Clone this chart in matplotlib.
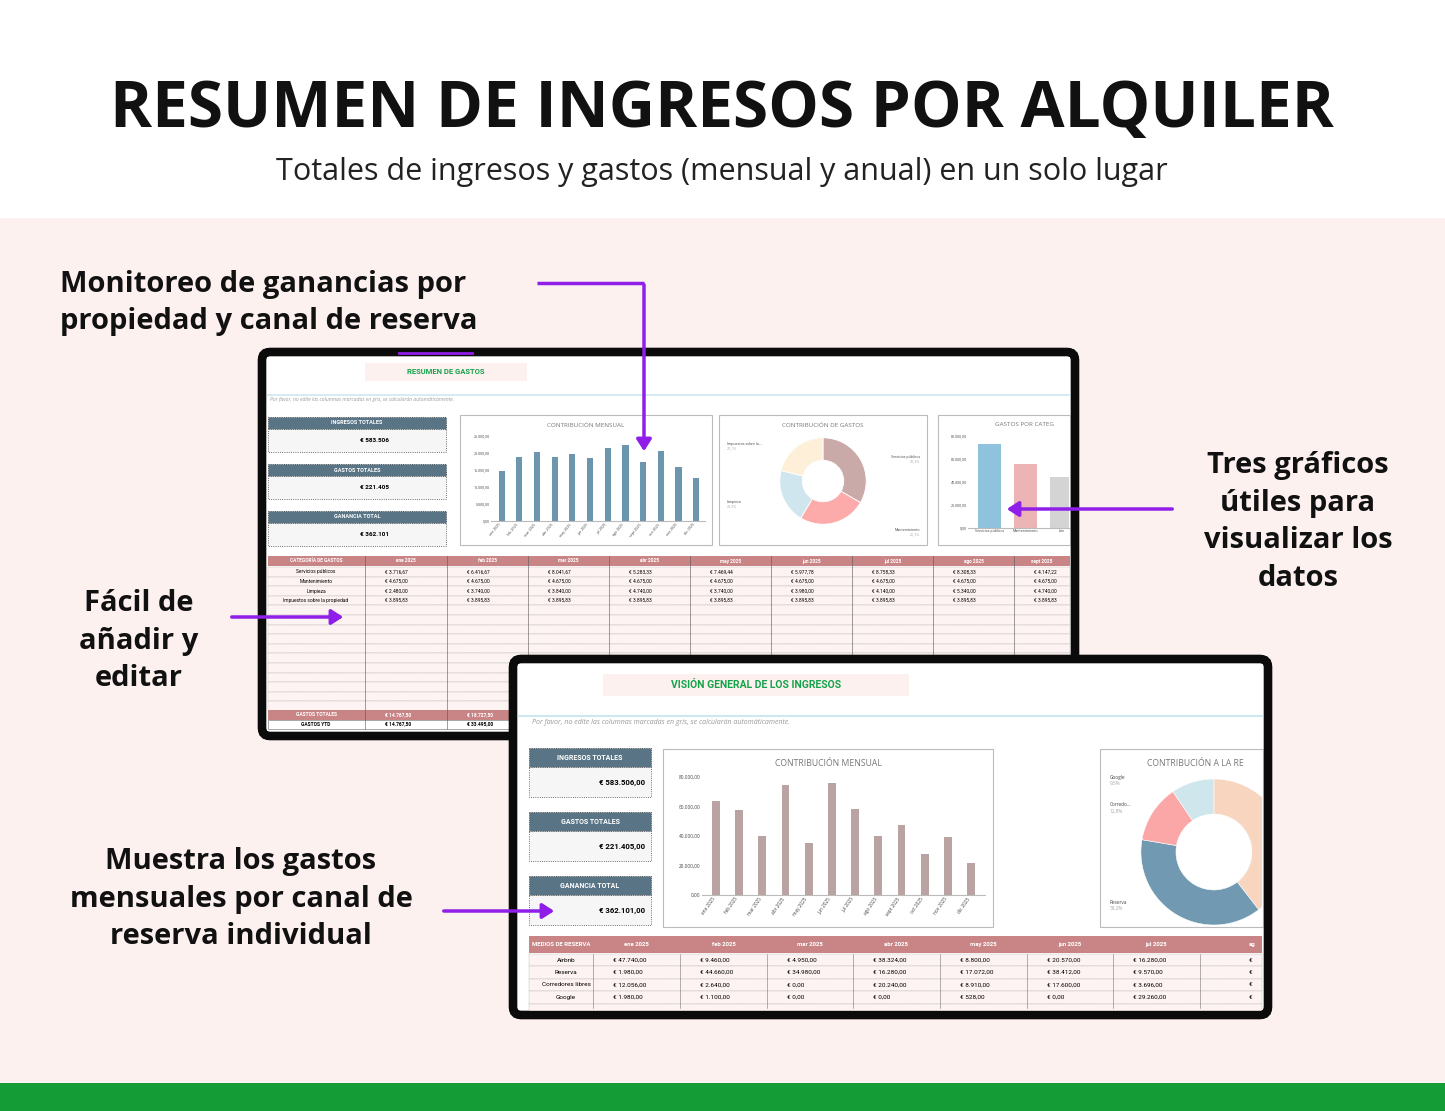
import matplotlib
matplotlib.use("Agg")
import matplotlib.pyplot as plt
from matplotlib.patches import Rectangle, FancyBboxPatch

W, H = 1445, 1111
plt.rcParams['font.family'] = ['Open Sans', 'DejaVu Sans']

# ---- datos ----
meses = ["ene 2025", "feb 2025", "mar 2025", "abr 2025", "may 2025", "jun 2025",
         "jul 2025", "ago 2025", "sept 2025", "oct 2025", "nov 2025", "dic 2025"]
gastos_mensuales = [14800, 18700, 20400, 18700, 19800, 18500, 21500, 22300, 17400, 20700, 16000, 12700]
ingresos_mensuales = [63500, 57500, 40000, 74500, 35500, 76000, 58500, 40000, 47500, 27500, 39500, 21500]

cat_gastos = ["Servicios públicos", "Mantenimiento", "Limpieza", "Impuestos sobre la propiedad"]
pct_gastos = [33.3, 25.3, 20.3, 21.1]
col_gastos = ["#c9aaa9", "#fcabaa", "#cfe6ee", "#fdefd8"]
total_cat = [73000, 56000, 44000]
col_cat = ["#8ec2dd", "#ecb4b5", "#d4d4d4"]

canales = ["Airbnb", "Reserva", "Corredores libres", "Google"]
pct_canales = [39.5, 38.2, 12.8, 9.5]
col_canales = ["#f7d5bf", "#7199b1", "#fca7a7", "#cee6ec"]

tabla_gastos = [
    ["3.716,67", "6.416,67", "8.041,67", "5.283,33", "7.469,44", "5.977,78", "8.758,33", "8.308,33", "4.147,22"],
    ["4.675,00"] * 9,
    ["2.480,00", "3.740,00", "3.840,00", "4.740,00", "3.740,00", "3.980,00", "4.140,00", "5.340,00", "4.740,00"],
    ["3.895,83"] * 9,
]
totales_gastos = ["14.767,50", "18.727,50"]
ytd_gastos = ["14.767,50", "33.495,00"]

tabla_ingresos = [
    ["47.740,00", "9.460,00", "4.950,00", "38.324,00", "8.800,00", "20.570,00", "16.280,00"],
    ["1.980,00", "44.660,00", "34.980,00", "16.280,00", "17.072,00", "38.412,00", "9.570,00"],
    ["12.056,00", "2.640,00", "0,00", "20.240,00", "8.910,00", "17.600,00", "3.696,00"],
    ["1.980,00", "1.100,00", "0,00", "0,00", "528,00", "0,00", "29.260,00"],
]

fig = plt.figure(figsize=(W / 100, H / 100), dpi=100)


def px_ax(x0, y0, x1, y1, z=1):
    return fig.add_axes([x0 / W, 1 - y1 / H, (x1 - x0) / W, (y1 - y0) / H], zorder=z)


bg = px_ax(0, 0, W, H, 0)
bg.set_xlim(0, W)
bg.set_ylim(H, 0)
bg.axis("off")


def rect(x0, y0, x1, y1, fc, ec="none", lw=0, z=1, **kw):
    bg.add_patch(Rectangle((x0, y0), x1 - x0, y1 - y0, fc=fc, ec=ec, lw=lw, zorder=z, **kw))


rect(0, 0, W, 218, "white", z=0)
rect(0, 218, W, 1083, "#fdf1f0", z=0)
rect(0, 1083, W, H, "#149c37", z=0)

bg.text(722, 110, "RESUMEN DE INGRESOS POR ALQUILER", ha="center", va="center",
        fontsize=46, fontweight="bold", color="#111111")
bg.text(722, 172, "Totales de ingresos y gastos (mensual y anual) en un solo lugar",
        ha="center", va="center", fontsize=22, color="#222222")

ann = dict(fontsize=21, fontweight="bold", color="#111111", linespacing=1.4)
bg.text(60, 303, "Monitoreo de ganancias por\npropiedad y canal de reserva", ha="left", va="center", **ann)
bg.text(1298, 522, "Tres gráficos\nútiles para\nvisualizar los\ndatos", ha="center", va="center", **ann)
bg.text(139, 641, "Fácil de\nañadir y\neditar", ha="center", va="center", **ann)
bg.text(241, 899, "Muestra los gastos\nmensuales por canal de\nreserva individual", ha="center", va="center", **ann)


def marco(x0, y0, x1, y1, z):
    bg.add_patch(FancyBboxPatch((x0, y0), x1 - x0, y1 - y0, boxstyle="round,pad=0,rounding_size=8",
                                fc="white", ec="#0b0b0b", lw=6, zorder=z))


def kpi(x0, x1, y0, yh, y1, titulo, fs_t, z):
    rect(x0, y0, x1, yh, "#587485", ec="#333333", lw=0.6, z=z, ls=":")
    rect(x0, yh, x1, y1, "#f6f6f6", ec="#444444", lw=0.6, z=z, ls=":")
    bg.text((x0 + x1) / 2, (y0 + yh) / 2, titulo, ha="center", va="center", fontsize=fs_t,
            color="white", fontweight="bold", zorder=z + 1, family="Roboto")
    return (yh + y1) / 2


# ---------------- captura 1: resumen de gastos ----------------
Z1 = 2
marco(262, 352, 1075, 736, Z1)
rect(365, 363, 527, 381, "#fdf1ef", z=Z1 + 1)
bg.text(446, 372, "RESUMEN DE GASTOS", ha="center", va="center", fontsize=5.5, color="#14a34a",
        fontweight="bold", zorder=Z1 + 2, family="Roboto")
bg.plot([268, 1070], [395, 395], color="#cfe8f0", lw=1.2, zorder=Z1 + 1)
bg.plot([399, 472], [353, 353], color="#8e1ee8", lw=2, zorder=Z1 + 5)
bg.text(270, 400, "Por favor, no edite las columnas marcadas en gris, se calcularán automáticamente.",
        fontsize=3.6, color="#999999", style="italic", va="center", zorder=Z1 + 1)
for (y0, t, v) in [(417, "INGRESOS TOTALES", "€ 583.506"), (464, "GASTOS TOTALES", "€ 221.405"),
                   (511, "GANANCIA TOTAL", "€ 362.101")]:
    yv = kpi(268, 446, y0, y0 + 12, y0 + 35, t, 4, Z1 + 1)
    bg.text(389, yv, v, ha="right", va="center", fontsize=4.6, fontweight="bold", zorder=Z1 + 2,
            family="Roboto")
for (a, b) in [(460, 712), (719, 927), (938, 1070)]:
    rect(a, 415, b, 545, "white", ec="#bbbbbb", lw=0.8, z=Z1 + 1)

# tabla de gastos
xc1 = [268, 365, 447, 528, 609, 690, 771, 852, 933, 1014, 1095]
rect(268, 556, 1070, 566, "#c98585", z=Z1 + 1)
hdr1 = ["CATEGORÍA DE GASTOS"] + meses[:9]
for i, h in enumerate(hdr1):
    bg.text((xc1[i] + xc1[i + 1]) / 2 if i < 9 else 1042, 561, h, ha="center", va="center",
            fontsize=3.4, color="white", fontweight="bold", zorder=Z1 + 2, family="Roboto")
row_h = 9.6
for r in range(15):
    y0 = 567 + r * row_h
    rect(268, y0, 1070, y0 + row_h, "#fdf3f2", ec="#9a9a9a", lw=0.35, z=Z1 + 1, ls=(0, (1, 1)))
for r, nombre in enumerate(cat_gastos):
    y = 567 + r * row_h + row_h / 2
    bg.text(316, y, nombre, ha="center", va="center", fontsize=3.5, zorder=Z1 + 2, family="Roboto")
    for c, v in enumerate(tabla_gastos[r]):
        bg.text(xc1[c + 1] + 20, y, "€ " + v, ha="left", va="center", fontsize=3.5, zorder=Z1 + 2,
                family="Roboto")
for x in xc1[1:10]:
    bg.plot([x, x], [556, 729], color="#555555", lw=0.4, zorder=Z1 + 2)
rect(268, 710, 1070, 719.5, "#c98585", z=Z1 + 1)
rect(268, 719.5, 1070, 729, "white", ec="#666666", lw=0.4, z=Z1 + 1)
bg.text(316, 715, "GASTOS TOTALES", ha="center", va="center", fontsize=3.5, color="white",
        fontweight="bold", zorder=Z1 + 2, family="Roboto")
bg.text(316, 724, "GASTOS YTD", ha="center", va="center", fontsize=3.5, fontweight="bold",
        zorder=Z1 + 2, family="Roboto")
for c in range(2):
    bg.text(xc1[c + 1] + 20, 715, "€ " + totales_gastos[c], ha="left", va="center", fontsize=3.5,
            color="white", fontweight="bold", zorder=Z1 + 2, family="Roboto")
    bg.text(xc1[c + 1] + 20, 724, "€ " + ytd_gastos[c], ha="left", va="center", fontsize=3.5,
            fontweight="bold", zorder=Z1 + 2, family="Roboto")
bg.add_patch(FancyBboxPatch((262, 352), 813, 384, boxstyle="round,pad=0,rounding_size=8",
                            fc="none", ec="#0b0b0b", lw=6, zorder=Z1 + 4))

# ---------------- captura 2: visión general de ingresos ----------------
Z2 = 10
marco(513, 659, 1268, 1015, Z2)
rect(603, 674, 909, 696, "#fdf1ef", z=Z2 + 1)
bg.text(756, 685, "VISIÓN GENERAL DE LOS INGRESOS", ha="center", va="center", fontsize=7.5,
        color="#14a34a", fontweight="bold", zorder=Z2 + 2, family="Roboto")
bg.plot([518, 1263], [716, 716], color="#cfe8f0", lw=1.5, zorder=Z2 + 1)
bg.text(532, 723, "Por favor, no edite las columnas marcadas en gris, se calcularán automáticamente.",
        fontsize=5, color="#999999", style="italic", va="center", zorder=Z2 + 1)
for (y0, t, v) in [(748, "INGRESOS TOTALES", "€ 583.506,00"), (812, "GASTOS TOTALES", "€ 221.405,00"),
                   (876, "GANANCIA TOTAL", "€ 362.101,00")]:
    yv = kpi(529, 651, y0, y0 + 19, y0 + 49, t, 5, Z2 + 1)
    bg.text(645, yv, v, ha="right", va="center", fontsize=5.6, fontweight="bold", zorder=Z2 + 2,
            family="Roboto")
rect(663, 749, 993, 927, "white", ec="#bbbbbb", lw=0.8, z=Z2 + 1)
rect(1100, 749, 1263, 927, "white", ec="#bbbbbb", lw=0.8, z=Z2 + 1)

xc2 = [529, 593, 680, 767, 853, 940, 1027, 1113, 1200, 1287]
rect(529, 936, 1262, 953, "#c98585", z=Z2 + 1)
hdr2 = ["MEDIOS DE RESERVA"] + meses[:7] + ["ag"]
for i, h in enumerate(hdr2):
    xx = (xc2[i] + xc2[i + 1]) / 2 if i < 8 else 1252
    bg.text(xx, 944.5, h, ha="center", va="center", fontsize=4.3, color="white", fontweight="bold",
            zorder=Z2 + 2, family="Roboto")
row_h2 = 12.4
for r in range(5):
    y0 = 954 + r * row_h2
    rect(529, y0, 1262, y0 + row_h2, "#fdf3f2", ec="#9a9a9a", lw=0.35, z=Z2 + 1, ls=(0, (1, 1)))
for r, nombre in enumerate(canales):
    y = 954 + r * row_h2 + row_h2 / 2
    bg.text(566, y, nombre, ha="center", va="center", fontsize=4.6, zorder=Z2 + 2, family="Roboto")
    for c, v in enumerate(tabla_ingresos[r]):
        bg.text(xc2[c + 1] + 20, y, "€ " + v, ha="left", va="center", fontsize=4.6, zorder=Z2 + 2,
                family="Roboto")
    bg.text(1249, y, "€", ha="left", va="center", fontsize=4.6, zorder=Z2 + 2, family="Roboto")
for x in xc2[1:9]:
    bg.plot([x, x], [954, 1008], color="#777777", lw=0.4, zorder=Z2 + 2)


def estilo_barras(ax, fs):
    ax.set_facecolor("white")
    for s in ["top", "right", "left"]:
        ax.spines[s].set_visible(False)
    ax.spines["bottom"].set_color("#bbbbbb")
    ax.tick_params(length=0, labelsize=fs, colors="#444444", pad=1)


def euro(v):
    return f"{v:,.2f}".replace(",", "X").replace(".", ",").replace("X", ".")


# gráfico 1: contribución mensual de gastos
bg.text(586, 425, "CONTRIBUCIÓN MENSUAL", ha="center", va="center", fontsize=4.5, color="#777777",
        zorder=Z1 + 2)
a1 = px_ax(491, 436, 705, 521, 5)
a1.bar(range(12), gastos_mensuales, width=0.35, color="#6b96ae")
a1.set_ylim(0, 25000)
a1.set_yticks(range(0, 25001, 5000))
a1.set_yticklabels([euro(v) for v in range(0, 25001, 5000)])
a1.set_xticks(range(12))
a1.set_xticklabels(meses, rotation=50, ha="right")
a1.set_xlim(-0.6, 11.5)
estilo_barras(a1, 2.6)

# gráfico 2: contribución de gastos
bg.text(823, 425, "CONTRIBUCIÓN DE GASTOS", ha="center", va="center", fontsize=4.5, color="#777777",
        zorder=Z1 + 2)
a2 = px_ax(769, 427, 877, 535, 5)
a2.pie(pct_gastos, colors=col_gastos, startangle=90, counterclock=False,
       wedgeprops=dict(width=0.52, edgecolor="white", linewidth=0.6))
a2.set_aspect("equal")
for (txt, p, x, y, ha) in [("Impuestos sobre la...", 21.1, 727, 444, "left"),
                           ("Servicios públicos", 33.3, 920, 457, "right"),
                           ("Limpieza", 20.3, 727, 502, "left"),
                           ("Mantenimiento", 25.3, 920, 530, "right")]:
    bg.text(x, y, txt, fontsize=2.6, ha=ha, va="center", color="#444444", zorder=Z1 + 2)
    bg.text(x, y + 4, f"{p:.1f}%".replace(".", ","), fontsize=2.6, ha=ha, va="center",
            color="#aaaaaa", zorder=Z1 + 2)

# gráfico 3: gastos por categoría (recortado)
bg.text(995, 425, "GASTOS POR CATEG", ha="left", va="center", fontsize=4.5, color="#777777",
        zorder=Z1 + 2)
a3 = px_ax(968, 436, 1069, 528, 5)
a3.bar(range(3), total_cat, width=0.65, color=col_cat)
a3.set_ylim(0, 80000)
a3.set_xlim(-0.6, 2.2)
a3.set_yticks(range(0, 80001, 20000))
a3.set_yticklabels([euro(v) for v in range(0, 80001, 20000)])
a3.set_xticks(range(3))
a3.set_xticklabels(["Servicios públicos", "Mantenimiento", "Lim"])
estilo_barras(a3, 2.6)

# gráfico 4: contribución mensual de ingresos
bg.text(828, 763, "CONTRIBUCIÓN MENSUAL", ha="center", va="center", fontsize=6.2, color="#777777",
        zorder=Z2 + 2)
a4 = px_ax(702, 777, 985, 895, 15)
a4.bar(range(12), ingresos_mensuales, width=0.33, color="#b9a3a3")
a4.set_ylim(0, 80000)
a4.set_yticks(range(0, 80001, 20000))
a4.set_yticklabels([euro(v) for v in range(0, 80001, 20000)])
a4.set_xticks(range(12))
a4.set_xticklabels(meses, rotation=55, ha="right")
a4.set_xlim(-0.6, 11.6)
estilo_barras(a4, 3.4)

# gráfico 5: contribución a la reserva (recortado en el borde derecho)
bg.text(1147, 763, "CONTRIBUCIÓN A LA RE", ha="left", va="center", fontsize=6.2, color="#777777",
        zorder=Z2 + 2)
a5 = px_ax(1138, 779, 1262, 925, 15)
cunas, _ = a5.pie(pct_canales, colors=col_canales, startangle=90, counterclock=False,
                  wedgeprops=dict(width=0.48, edgecolor="white", linewidth=0.4))
for w in cunas:
    w.set_clip_on(True)
a5.set_aspect("auto")
a5.set_ylim(-1.0, 1.0)
a5.set_xlim(-1.04, -1.04 + 2.0 * 124 / 146)
a5.axis("off")
for (txt, p, y) in [("Google", 9.5, 777), ("Corredo...", 12.8, 805), ("Reserva", 38.2, 902)]:
    bg.text(1110, y, txt, fontsize=3.4, ha="left", va="center", color="#444444", zorder=Z2 + 2)
    bg.text(1110, y + 6, f"{p:.1f}%".replace(".", ","), fontsize=3.4, ha="left", va="center",
            color="#aaaaaa", zorder=Z2 + 2)

# flechas moradas y borde de la captura 2
ov = px_ax(0, 0, W, H, 30)
ov.set_xlim(0, W)
ov.set_ylim(H, 0)
ov.axis("off")
ov.patch.set_alpha(0)
ov.add_patch(FancyBboxPatch((513, 659), 755, 356, boxstyle="round,pad=0,rounding_size=8",
                            fc="none", ec="#0b0b0b", lw=6))
pur = "#8e1ee8"
ov.plot([537, 644], [283, 283], color=pur, lw=2.5, solid_capstyle="butt")
arr = dict(arrowstyle="-|>,head_width=0.45,head_length=0.7", color=pur, lw=2.5)
ov.annotate("", xy=(644, 454), xytext=(644, 282), arrowprops=arr)
ov.annotate("", xy=(1004, 509), xytext=(1175, 509), arrowprops=arr)
ov.annotate("", xy=(346, 617), xytext=(229, 617), arrowprops=arr)
ov.annotate("", xy=(557, 911), xytext=(441, 911), arrowprops=arr)

fig.savefig("out.png", dpi=100)
